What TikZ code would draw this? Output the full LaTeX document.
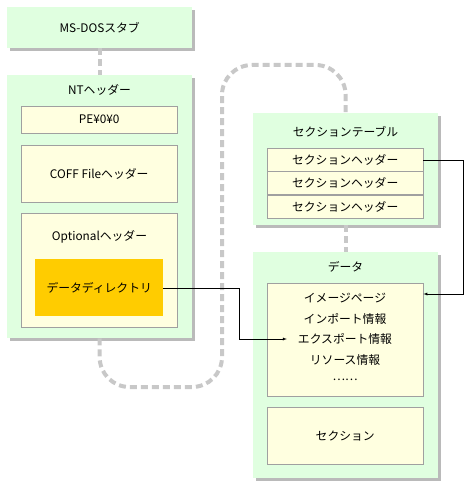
\documentclass[tikz,border=0pt]{standalone}
\usepackage{fontspec}
\setmainfont{Noto Sans CJK JP}
\usetikzlibrary{positioning,shadows}
\definecolor{panegreen}{HTML}{E0FFE0}
\definecolor{cellyellow}{HTML}{FFFFE0}
\definecolor{dirorange}{HTML}{FFCC00}
\definecolor{dashgray}{HTML}{C8C8C8}
\definecolor{cellline}{HTML}{A0A0A0}
\tikzset{
  pane/.style={fill=panegreen, minimum width=185pt, inner sep=0pt, anchor=north west,
    drop shadow={shadow xshift=3pt, shadow yshift=-3pt, opacity=0.45, fill=black!60}},
  cell/.style={draw=cellline, fill=cellyellow, minimum width=156pt, inner sep=0pt, anchor=north west},
  dashlink/.style={draw=dashgray, line width=4pt, dash pattern=on 7pt off 4pt},
}
\begin{document}
\begin{tikzpicture}[x=1pt,y=-1pt,>=latex,font=\fontsize{11.8}{13}\selectfont]
  \useasboundingbox (0,0) rectangle (465,492);
  % left column
  \node[pane, minimum height=41pt] (msdos) at (7,7) {MS-DOSスタブ};
  \node[pane, minimum height=263pt] (nt) at (7,75) {};
  \node (nttitle) at (99.5,90) {NTヘッダー};
  \node[cell, minimum height=27pt] (pe) at (21,106) {PE¥0¥0};
  \node[cell, minimum height=57pt] (coff) at (21,145) {COFF Fileヘッダー};
  \node[cell, minimum height=114pt] (opt) at (21,213) {};
  \node (opttitle) at (99.5,237) {Optionalヘッダー};
  \node[fill=dirorange, minimum width=128pt, minimum height=57pt, inner sep=0pt, anchor=north west] (dir) at (35,259) {データディレクトリ};
  % right column
  \node[pane, minimum height=112pt] (sectab) at (253,113) {};
  \node (sectitle) at (345.5,132) {セクションテーブル};
  \node[cell, minimum height=23pt] (sh1) at (267,148) {セクションヘッダー};
  \node[cell, minimum height=23pt, below=0pt of sh1] (sh2) {セクションヘッダー};
  \node[cell, minimum height=23pt, below=0pt of sh2] (sh3) {セクションヘッダー};
  \node[pane, minimum height=226pt] (datapane) at (253,252) {};
  \node (datatitle) at (345.5,267) {データ};
  \node[cell, minimum height=113pt] (list) at (267,283) {};
  \node (img) at (345,298) {イメージページ};
  \node (imp) at (345,319) {インポート情報};
  \node[inner xsep=11pt] (exp) at (345,339) {エクスポート情報};
  \node (res) at (345,360) {リソース情報};
  \node (etc) at (345,380) {……};
  \node[cell, minimum height=57pt] (sect) at (267,407) {セクション};
  % file order
  \draw[dashlink] (msdos.south) -- (nt.north);
  \draw[dashlink] (sectab.south) -- (datapane.north);
  \draw[dashlink, rounded corners=30pt] (nt.south) -- (99.5,387) -- (222,387) -- (222,65) -- (345.5,65) -- (sectab.north);
  % references
  \coordinate (dirbend) at (239,0);
  \coordinate (shbend) at (463,294);
  \draw[->] (dir.east) -- (dir.east -| dirbend) |- (exp.west);
  \draw[->] (sh1.east) -| (shbend) -- (shbend -| list.east);
\end{tikzpicture}
\end{document}
